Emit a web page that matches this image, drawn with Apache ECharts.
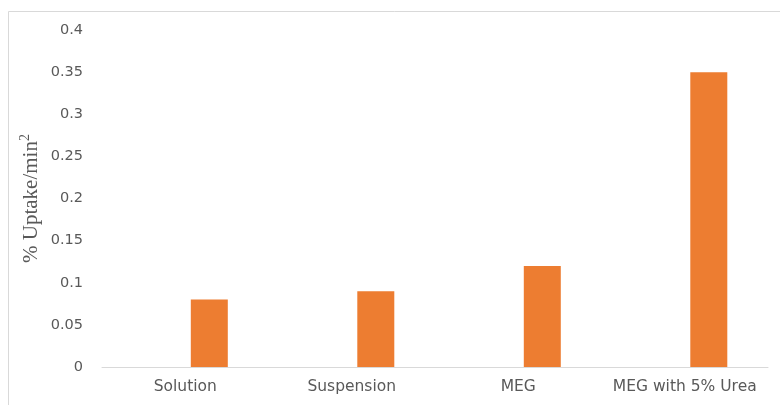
<!DOCTYPE html>
<html>
<head>
<meta charset="utf-8">
<script src="https://cdn.jsdelivr.net/npm/echarts@6/dist/echarts.min.js"></script>
<style>
html,body{margin:0;padding:0;background:#fff;}
#chart{width:780px;height:405px;}
</style>
</head>
<body>
<div id="chart"></div>
<script>
// Uptake rate per formulation
const categories = ['Solution', 'Suspension', 'MEG', 'MEG with 5% Urea'];
const uptakeValues = [0.08, 0.09, 0.12, 0.35];
const placeholderValues = [null, null, null, null];
const yTicks = { min: 0, max: 0.4, interval: 0.05 };

const chart = echarts.init(document.getElementById('chart'));
const labelFont = 'DejaVu Sans, Verdana, sans-serif';
const textGray = '#595959';

chart.setOption({
  animation: false,
  backgroundColor: '#fff',
  grid: { left: 102, right: 12, top: 30, bottom: 38 },
  xAxis: {
    type: 'category',
    data: categories,
    axisLine: { lineStyle: { color: '#d9d9d9', width: 1 } },
    axisTick: { show: false },
    axisLabel: { interval: 0, color: textGray, fontSize: 15.5, fontFamily: labelFont, margin: 12 }
  },
  yAxis: {
    type: 'value',
    min: yTicks.min,
    max: yTicks.max,
    interval: yTicks.interval,
    name: '% Uptake/min{sup|2}',
    nameLocation: 'middle',
    nameGap: 58,
    nameMoveOverlap: false,
    nameRotate: 90,
    nameTextStyle: {
      color: textGray, fontSize: 21, fontFamily: 'Liberation Serif, Times New Roman, serif',
      rich: { sup: { fontSize: 14, verticalAlign: 'top', color: textGray, fontFamily: 'Liberation Serif, serif', padding: [0, 0, 12, 0] } }
    },
    axisLine: { show: false },
    axisTick: { show: false },
    splitLine: { show: false },
    axisLabel: {
      color: textGray, fontSize: 14.5, fontFamily: labelFont, margin: 19,
      formatter: v => String(parseFloat(v.toFixed(2)))
    }
  },
  series: [
    { type: 'bar', data: placeholderValues, barWidth: 37, barGap: '30%', itemStyle: { color: '#4472c4' } },
    { type: 'bar', data: uptakeValues, barWidth: 37, barGap: '30%', itemStyle: { color: '#ed7d31' } }
  ],
  graphic: [
    { type: 'line', shape: { x1: 8.5, y1: 11.5, x2: 780, y2: 11.5 }, style: { stroke: '#d9d9d9', lineWidth: 1 } },
    { type: 'line', shape: { x1: 8.5, y1: 11.5, x2: 8.5, y2: 405 }, style: { stroke: '#d9d9d9', lineWidth: 1 } }
  ]
});
</script>
</body>
</html>
